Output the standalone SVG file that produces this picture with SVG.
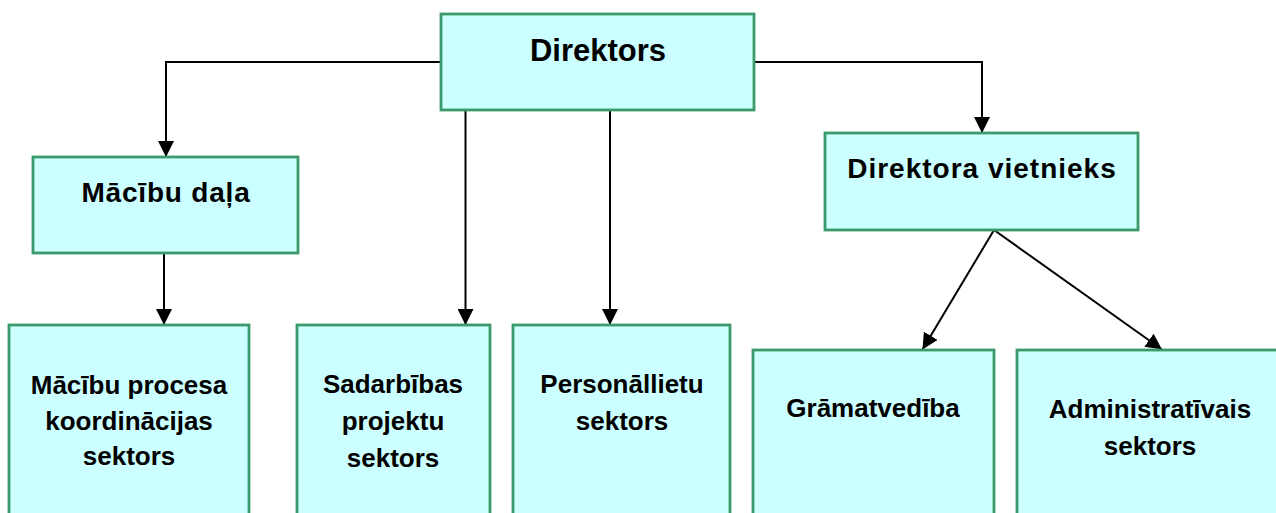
<svg xmlns="http://www.w3.org/2000/svg" width="1276" height="513" viewBox="0 0 1276 513">
<style>
.box{fill:#CCFFFF;stroke:#3A9A6C;stroke-width:2.8}
.t{font-family:"Liberation Sans",Arial,sans-serif;font-weight:bold;fill:#000;text-anchor:middle}
.c{fill:none;stroke:#000;stroke-width:2}
</style>
<defs>
<marker id="ah" markerUnits="userSpaceOnUse" markerWidth="16" markerHeight="16" viewBox="0 0 16 16" refX="16" refY="8" orient="auto">
<path d="M0,0 L16,8 L0,16 Z" fill="#000"/>
</marker>
</defs>
<rect width="1276" height="513" fill="#fff"/>
<g id="connectors">
<polyline class="c" points="441,62 166,62 166,157" marker-end="url(#ah)"/>
<polyline class="c" points="754,62 982,62 982,133" marker-end="url(#ah)"/>
<line class="c" x1="465.5" y1="110" x2="465.5" y2="325" marker-end="url(#ah)"/>
<line class="c" x1="610" y1="110" x2="610" y2="325" marker-end="url(#ah)"/>
<line class="c" x1="164" y1="253" x2="164" y2="325" marker-end="url(#ah)"/>
<line class="c" x1="994" y1="230" x2="922.5" y2="349.5" marker-end="url(#ah)"/>
<line class="c" x1="994" y1="230" x2="1162" y2="349.5" marker-end="url(#ah)"/>
</g>
<g id="direktors">
<rect class="box" x="441" y="14" width="313" height="96"/>
<text class="t" x="598" y="61" font-size="31">Direktors</text>
</g>
<g id="macibu-dala">
<rect class="box" x="33" y="157" width="265" height="96"/>
<text class="t" x="166" y="202" font-size="28" letter-spacing="0.8">Mācību daļa</text>
</g>
<g id="direktora-vietnieks">
<rect class="box" x="825" y="133" width="313" height="97"/>
<text class="t" x="982" y="178" font-size="28" letter-spacing="1">Direktora vietnieks</text>
</g>
<g id="macibu-procesa">
<rect class="box" x="9" y="325" width="240" height="200"/>
<text class="t" font-size="26"><tspan x="129" y="394">Mācību procesa</tspan><tspan x="129" y="430">koordinācijas</tspan><tspan x="129" y="465">sektors</tspan></text>
</g>
<g id="sadarbibas">
<rect class="box" x="297" y="325" width="193" height="200"/>
<text class="t" font-size="26"><tspan x="393" y="393">Sadarbības</tspan><tspan x="393" y="430">projektu</tspan><tspan x="393" y="467">sektors</tspan></text>
</g>
<g id="personallietu">
<rect class="box" x="513" y="325" width="217" height="200"/>
<text class="t" font-size="26"><tspan x="622" y="393">Personāllietu</tspan><tspan x="622" y="430">sektors</tspan></text>
</g>
<g id="gramatvediba">
<rect class="box" x="753" y="350" width="241" height="200"/>
<text class="t" x="873" y="417" font-size="26">Grāmatvedība</text>
</g>
<g id="administrativais">
<rect class="box" x="1017" y="350" width="280" height="200"/>
<text class="t" font-size="26"><tspan x="1150" y="418">Administratīvais</tspan><tspan x="1150" y="455">sektors</tspan></text>
</g>
</svg>
